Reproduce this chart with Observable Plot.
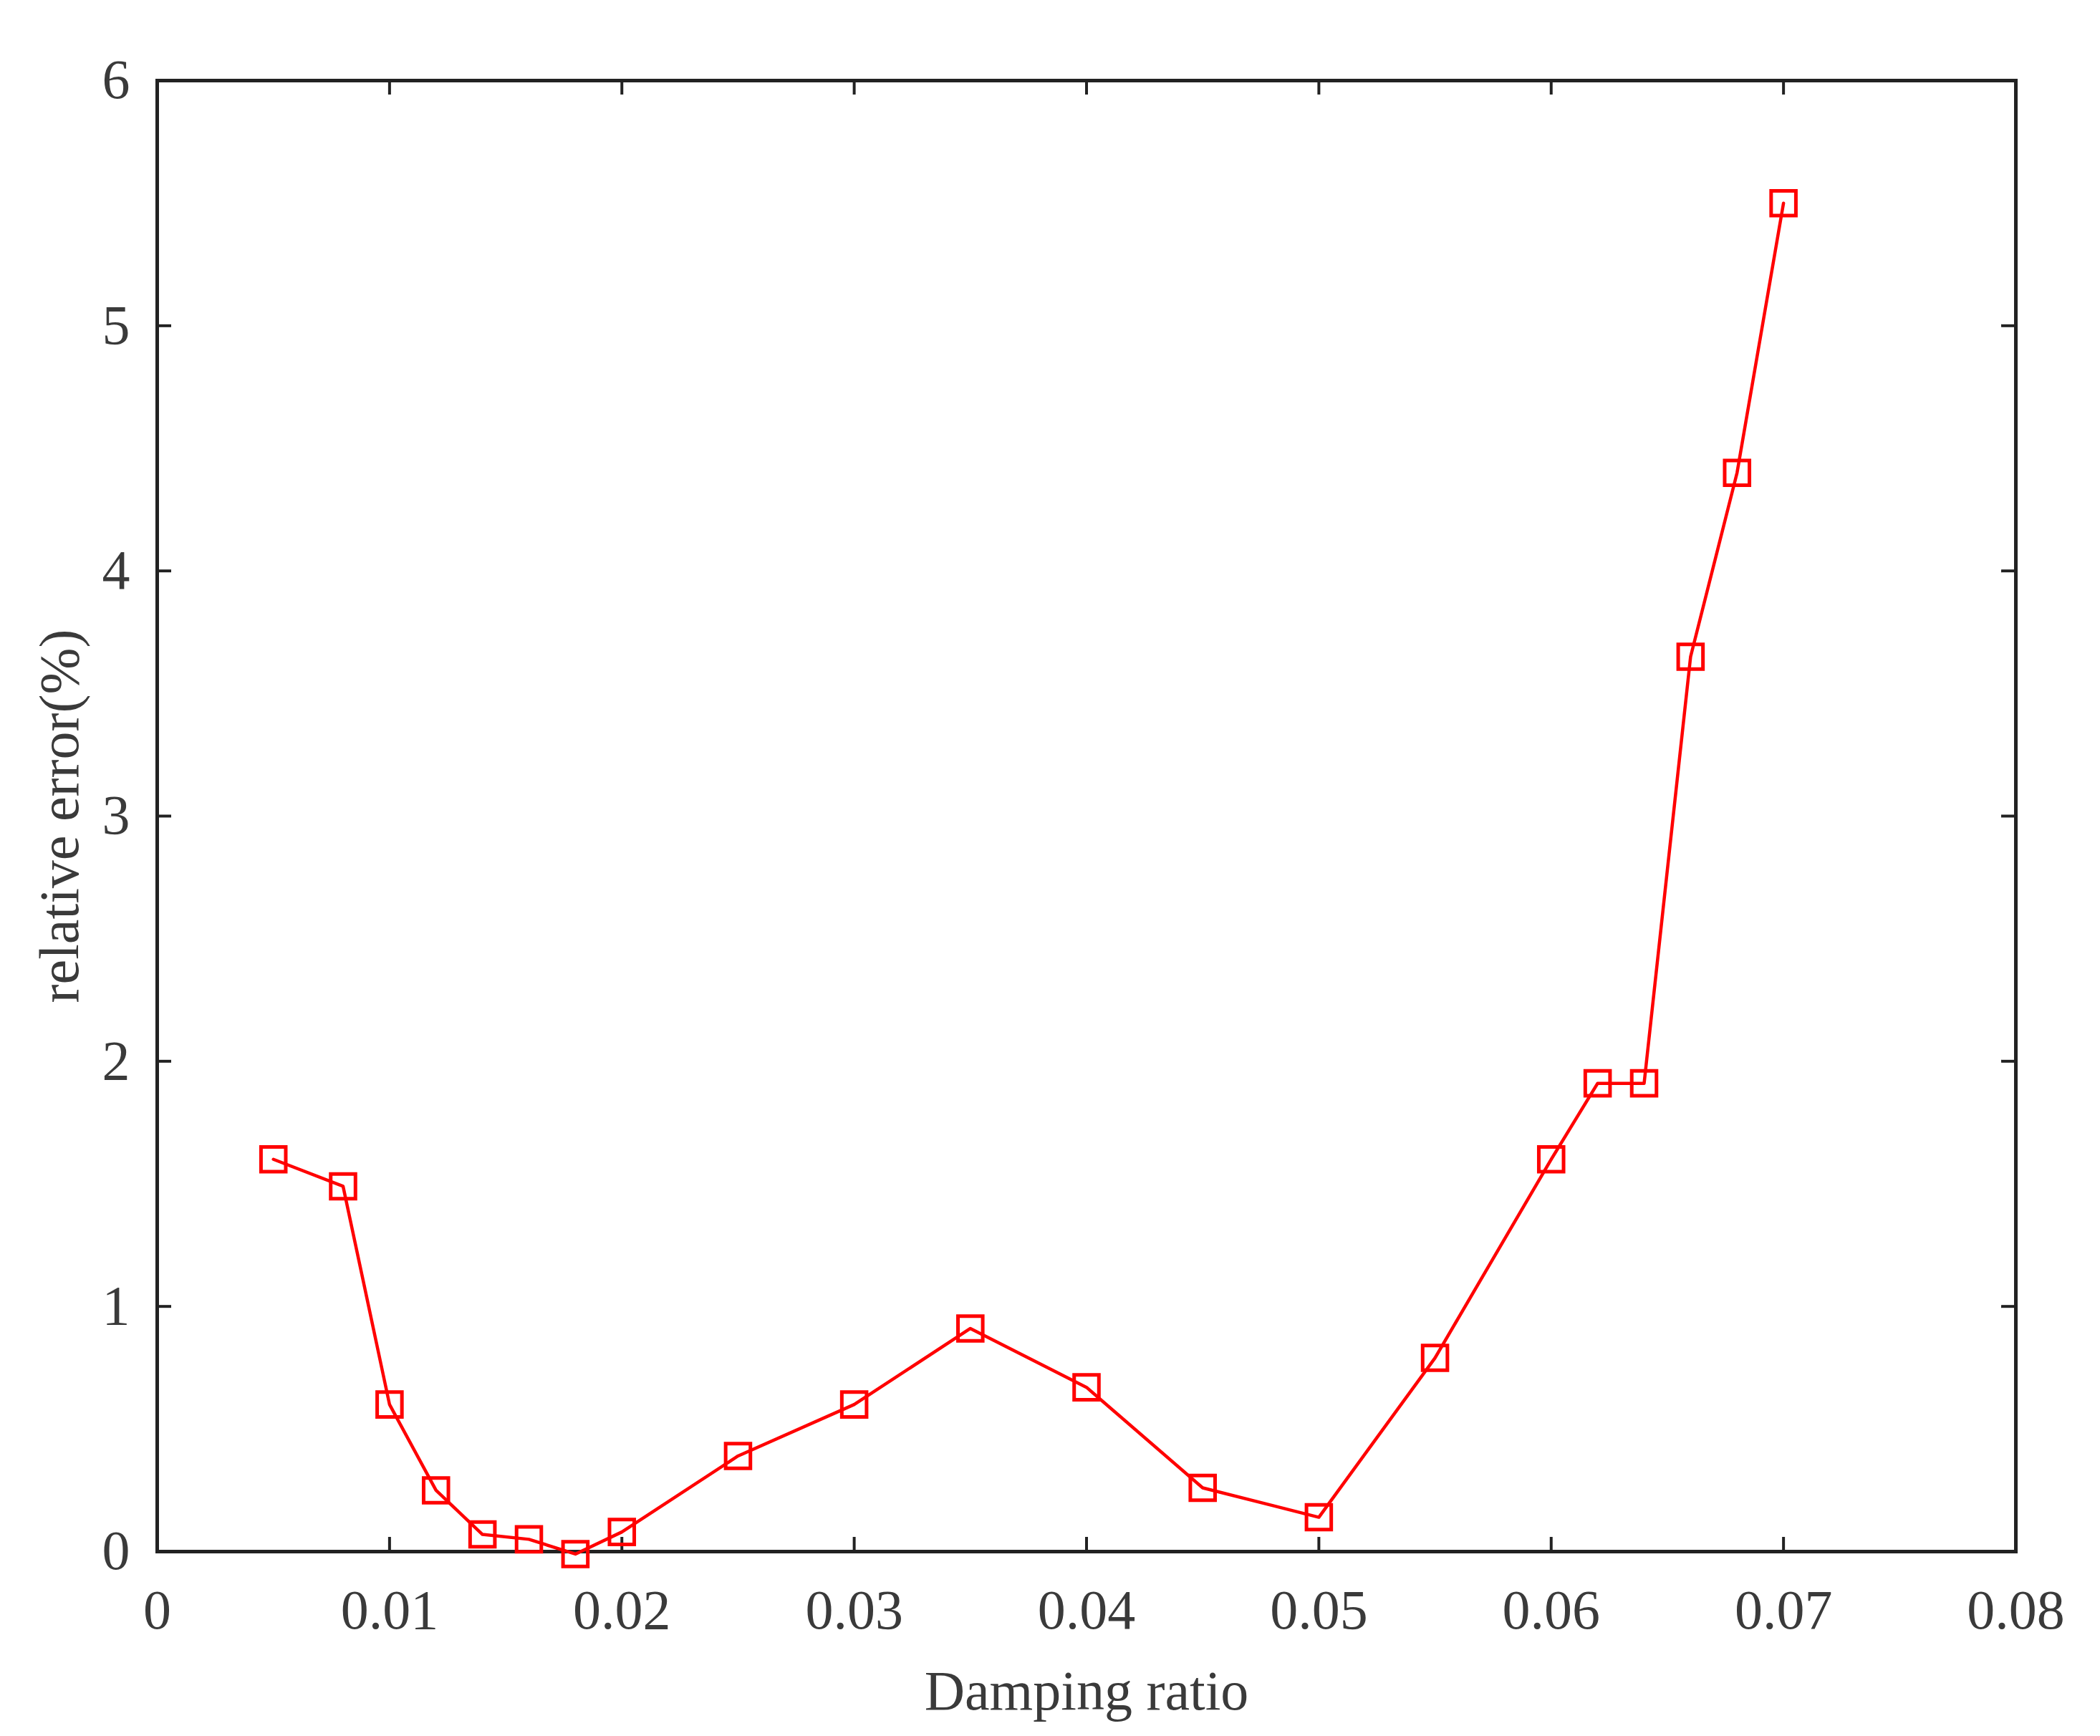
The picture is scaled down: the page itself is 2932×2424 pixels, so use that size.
<!DOCTYPE html>
<html>
<head>
<meta charset="utf-8">
<script src="https://cdn.jsdelivr.net/npm/d3@7"></script>
<script src="https://cdn.jsdelivr.net/npm/@observablehq/plot@0.6"></script>
<style>html,body{margin:0;padding:0;background:#fff;}</style>
</head>
<body>
<div id="chart"></div>
<script>
// Data
const dampingRatio = [0.005, 0.008, 0.010, 0.012, 0.014, 0.016, 0.018, 0.020, 0.025, 0.030, 0.035, 0.040, 0.045, 0.050, 0.055, 0.060, 0.062, 0.064, 0.066, 0.068, 0.070];
const relativeError = [1.60, 1.49, 0.60, 0.25, 0.07, 0.05, -0.01, 0.08, 0.39, 0.60, 0.91, 0.67, 0.26, 0.14, 0.79, 1.60, 1.91, 1.91, 3.65, 4.40, 5.50];
const xTicks = [0, 0.01, 0.02, 0.03, 0.04, 0.05, 0.06, 0.07, 0.08];
const yTicks = [0, 1, 2, 3, 4, 5, 6];
const xLabel = "Damping ratio";
const yLabel = "relative error(%)";

const data = dampingRatio.map((x, i) => ({x, y: relativeError[i]}));

const W = 2932, H = 2424;
const mL = 219, mR = 118, mT = 112, mB = 258;
const innerW = W - mL - mR, innerH = H - mT - mB;
const tickLen = 20;
const axisColor = "#222";
const textColor = "#3a3a3a";
const font = "'Liberation Serif', 'Times New Roman', serif";

const chart = Plot.plot({
  width: W,
  height: H,
  marginLeft: mL,
  marginRight: mR,
  marginTop: mT,
  marginBottom: mB,
  style: {fontFamily: font, fontSize: "78px", color: textColor, background: "#fff"},
  x: {domain: [0, 0.08]},
  y: {domain: [0, 6]},
  marks: [
    // inward ticks on all four sides
    Plot.tickX(xTicks, {x: d => d, insetTop: innerH - tickLen, stroke: axisColor, strokeWidth: 4}),
    Plot.tickX(xTicks, {x: d => d, insetBottom: innerH - tickLen, stroke: axisColor, strokeWidth: 4}),
    Plot.tickY(yTicks, {y: d => d, insetRight: innerW - tickLen, stroke: axisColor, strokeWidth: 4}),
    Plot.tickY(yTicks, {y: d => d, insetLeft: innerW - tickLen, stroke: axisColor, strokeWidth: 4}),
    // tick labels
    Plot.axisX(xTicks, {tickSize: 0, tickPadding: 52, label: null, fontSize: 78, tickFormat: d => `${d}`}),
    Plot.axisY(yTicks, {tickSize: 0, tickPadding: 38, label: null, fontSize: 78, tickFormat: d => `${d}`}),
    Plot.frame({stroke: axisColor, strokeWidth: 5}),
    // series
    Plot.line(data, {x: "x", y: "y", stroke: "#ff0000", strokeWidth: 4.5}),
    Plot.dot(data, {x: "x", y: "y", symbol: "square", r: 19.5, stroke: "#ff0000", strokeWidth: 5, fill: "none"}),
    // axis titles
    Plot.text([xLabel], {frameAnchor: "bottom", dy: 196, text: d => d, fontSize: 78, fill: textColor, textAnchor: "middle", lineAnchor: "middle"}),
    Plot.text([yLabel], {frameAnchor: "left", dx: -135, rotate: -90, text: d => d, fontSize: 78, fill: textColor, textAnchor: "middle", lineAnchor: "middle"})
  ]
});

document.getElementById("chart").appendChild(chart);
</script>
</body>
</html>
